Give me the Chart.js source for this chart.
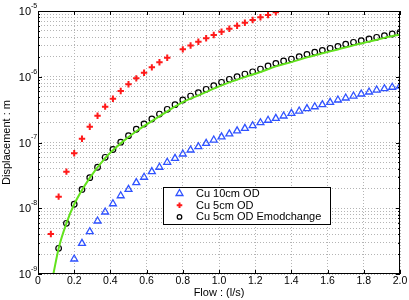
<!DOCTYPE html>
<html>
<head>
<meta charset="utf-8">
<script src="https://cdn.jsdelivr.net/npm/chart.js@4.4.1/dist/chart.umd.min.js"></script>
<style>
  body { margin: 0; background: #fff; }
  canvas { display: block; }
</style>
</head>
<body>
<canvas id="myChart" width="409" height="300"></canvas>
<script>
// flow values (l/s) shared by the three measured series
var flow = [0.071, 0.114, 0.157, 0.200, 0.243, 0.286, 0.329, 0.371, 0.414, 0.457,
  0.500, 0.543, 0.586, 0.629, 0.671, 0.714, 0.757, 0.800, 0.843, 0.886,
  0.929, 0.971, 1.014, 1.057, 1.100, 1.143, 1.186, 1.229, 1.271, 1.314,
  1.357, 1.400, 1.443, 1.486, 1.529, 1.571, 1.614, 1.657, 1.700, 1.743,
  1.786, 1.829, 1.871, 1.914, 1.957, 2.000];

var cu10 = [null, null, null, 1.69e-9, 2.93e-9, 4.40e-9, 6.40e-9, 8.77e-9, 1.17e-8, 1.55e-8,
  1.94e-8, 2.45e-8, 2.96e-8, 3.60e-8, 4.20e-8, 5.00e-8, 5.75e-8, 6.68e-8, 7.69e-8, 8.63e-8,
  9.72e-8, 1.09e-7, 1.22e-7, 1.35e-7, 1.50e-7, 1.64e-7, 1.80e-7, 2.00e-7, 2.18e-7, 2.33e-7,
  2.53e-7, 2.78e-7, 3.01e-7, 3.27e-7, 3.50e-7, 3.76e-7, 4.08e-7, 4.43e-7, 4.75e-7, 5.09e-7,
  5.47e-7, 5.86e-7, 6.28e-7, 6.58e-7, 6.92e-7, 7.23e-7];

var cu5 = [4.06e-9, 1.50e-8, 3.60e-8, 6.85e-8, 1.14e-7, 1.74e-7, 2.55e-7, 3.51e-7, 4.63e-7, 6.07e-7,
  7.67e-7, 9.46e-7, 1.15e-6, 1.39e-6, 1.66e-6, 1.95e-6, null, 2.61e-6, 2.99e-6, 3.40e-6,
  3.85e-6, 4.32e-6, 4.84e-6, 5.38e-6, 5.97e-6, 6.64e-6, 7.29e-6, 8.02e-6, 8.69e-6, 9.55e-6];

var cu5Emod = [null, 2.46e-9, 5.90e-9, 1.15e-8, 1.93e-8, 2.92e-8, 4.20e-8, 5.96e-8, 7.83e-8, 1.01e-7,
  1.27e-7, 1.59e-7, 1.91e-7, 2.28e-7, 2.71e-7, 3.20e-7, 3.76e-7, 4.43e-7, 5.09e-7, 5.71e-7,
  6.44e-7, 7.31e-7, 8.24e-7, 9.14e-7, 1.00e-6, 1.10e-6, 1.19e-6, 1.31e-6, 1.46e-6, 1.60e-6,
  1.74e-6, 1.86e-6, 2.02e-6, 2.19e-6, 2.36e-6, 2.52e-6, 2.71e-6, 2.90e-6, 3.12e-6, 3.34e-6,
  3.53e-6, 3.75e-6, 3.98e-6, 4.21e-6, 4.47e-6, 4.74e-6];

// fitted curve (green)
var fitFlow = [0.085, 0.114, 0.157, 0.200, 0.286, 0.371, 0.457, 0.543, 0.629, 0.714,
  0.800, 0.886, 0.971, 1.057, 1.143, 1.229, 1.314, 1.400, 1.486, 1.571,
  1.657, 1.743, 1.829, 1.914, 2.000];
var fitDisp = [1.0e-9, 2.45e-9, 5.9e-9, 1.15e-8, 2.9e-8, 5.8e-8, 9.7e-8, 1.48e-7, 2.12e-7, 2.98e-7,
  4.1e-7, 5.2e-7, 6.6e-7, 8.2e-7, 9.9e-7, 1.18e-6, 1.44e-6, 1.67e-6, 1.97e-6, 2.27e-6,
  2.6e-6, 3.0e-6, 3.42e-6, 3.9e-6, 4.4e-6];

var seriesLabels = ["Cu 10cm OD", "Cu 5cm OD", "Cu 5cm OD Emodchange"];
// y tick labels are drawn as 10 with a raised exponent
var yDecades = [-9, -8, -7, -6, -5];
var yTickExp = ["-9", "-8", "-7", "-6", "-5"];

var FONT = "'Liberation Sans', Arial, sans-serif";

function toPoints(xs, ys) {
  var pts = [];
  for (var i = 0; i < ys.length; i++) {
    if (ys[i] !== null) pts.push({ x: xs[i], y: ys[i] });
  }
  return pts;
}

function isDecade(v) {
  var l = Math.log10(v);
  return Math.abs(l - Math.round(l)) < 1e-6;
}

// MATLAB style frame + inward ticks + power-of-ten labels
var boxPlugin = {
  id: "box",
  afterDatasetsDraw: function (chart) {
    var ctx = chart.ctx, a = chart.chartArea;
    var x = chart.scales.x, y = chart.scales.y;
    ctx.save();
    ctx.strokeStyle = "#000";
    ctx.lineWidth = 1;
    ctx.beginPath();
    x.ticks.forEach(function (t) {
      var px = Math.round(x.getPixelForValue(t.value)) + 0.5;
      ctx.moveTo(px, a.bottom); ctx.lineTo(px, a.bottom - 4);
      ctx.moveTo(px, a.top); ctx.lineTo(px, a.top + 4);
    });
    y.ticks.forEach(function (t) {
      var py = Math.round(y.getPixelForValue(t.value)) + 0.5;
      var len = isDecade(t.value) ? 4 : 2;
      ctx.moveTo(a.left, py); ctx.lineTo(a.left + len, py);
      ctx.moveTo(a.right, py); ctx.lineTo(a.right - len, py);
    });
    ctx.stroke();
    ctx.strokeRect(Math.round(a.left) + 0.5, Math.round(a.top) + 0.5,
      Math.round(a.width) - 1, Math.round(a.height) - 1);

    ctx.fillStyle = "#000";
    ctx.textBaseline = "middle";
    yDecades.forEach(function (d, i) {
      var py = y.getPixelForValue(Math.pow(10, d));
      ctx.font = "11px " + FONT;
      ctx.textAlign = "right";
      ctx.fillText("10", a.left - 7, py + 1);
      ctx.font = "7px " + FONT;
      ctx.textAlign = "left";
      ctx.fillText(yTickExp[i], a.left - 7, py - 5);
    });
    ctx.restore();
  }
};

// legend box inside the plot
var legendPlugin = {
  id: "boxLegend",
  afterDraw: function (chart) {
    var ctx = chart.ctx;
    var bx = 163, by = 187, bw = 167, bh = 37;
    ctx.save();
    ctx.fillStyle = "#fff";
    ctx.fillRect(bx, by, bw, bh);
    ctx.strokeStyle = "#000";
    ctx.lineWidth = 1;
    ctx.strokeRect(bx + 0.5, by + 0.5, bw, bh);
    ctx.font = "11px " + FONT;
    ctx.textBaseline = "middle";
    var rows = chart.data.datasets.filter(function (d) { return d.inLegend; });
    rows.forEach(function (d, i) {
      var cy = by + 6.5 + i * 11.7;
      ctx.strokeStyle = d.borderColor;
      ctx.fillStyle = "rgba(0,0,0,0)";
      ctx.lineWidth = d.borderWidth;
      Chart.helpers.drawPoint(ctx, {
        pointStyle: d.pointStyle, radius: d.legendRadius, rotation: 0, borderWidth: d.borderWidth
      }, 179.5, cy);
      ctx.fillStyle = "#000";
      ctx.fillText(d.label, 196, cy + 0.5);
    });
    ctx.restore();
  }
};

var yTicks = [];
for (var e = -9; e <= -5; e++) {
  for (var m = 1; m <= 9; m++) {
    if (e === -5 && m > 1) break;
    yTicks.push(m * Math.pow(10, e));
  }
}

var gridColor = "#b4b4b4";

new Chart(document.getElementById("myChart").getContext("2d"), {
  type: "scatter",
  data: {
    datasets: [
      {
        label: "fit",
        type: "line",
        data: toPoints(fitFlow, fitDisp),
        borderColor: "#62e21c",
        borderWidth: 2,
        pointRadius: 0,
        cubicInterpolationMode: "monotone",
        fill: false,
        order: 0
      },
      {
        label: seriesLabels[0],
        inLegend: true,
        data: toPoints(flow, cu10),
        pointStyle: "triangle",
        pointRadius: 4,
        legendRadius: 4,
        borderColor: "#2f52ff",
        backgroundColor: "rgba(0,0,0,0)",
        borderWidth: 1.3,
        order: 3
      },
      {
        label: seriesLabels[1],
        inLegend: true,
        data: toPoints(flow, cu5),
        pointStyle: "cross",
        pointRadius: 3.2,
        legendRadius: 2.8,
        borderColor: "#ff1a1a",
        backgroundColor: "#ff1a1a",
        borderWidth: 2,
        order: 2
      },
      {
        label: seriesLabels[2],
        inLegend: true,
        data: toPoints(flow, cu5Emod),
        pointStyle: "circle",
        pointRadius: 2.8,
        legendRadius: 2.3,
        borderColor: "#000000",
        backgroundColor: "rgba(0,0,0,0)",
        borderWidth: 1.2,
        order: 1
      }
    ]
  },
  options: {
    animation: false,
    responsive: false,
    events: [],
    layout: { padding: { top: 11, right: 9, left: 0, bottom: 0 } },
    plugins: { legend: { display: false }, tooltip: { enabled: false } },
    scales: {
      x: {
        type: "linear",
        min: 0,
        max: 2,
        afterFit: function (s) { s.height = 26; },
        ticks: { stepSize: 0.2, color: "#000", padding: 1, font: { family: FONT, size: 10.5 } },
        grid: { color: gridColor, drawTicks: false, borderDash: [1, 2] },
        border: { display: false, dash: [1, 2] },
        title: { display: true, text: "Flow : (l/s)", color: "#000", padding: 0, font: { family: FONT, size: 11 } }
      },
      y: {
        type: "logarithmic",
        min: 1e-9,
        max: 1e-5,
        afterFit: function (s) { s.width = 38; },
        afterBuildTicks: function (s) {
          s.ticks = yTicks.map(function (v) { return { value: v }; });
        },
        ticks: {
          autoSkip: false,
          callback: function () { return ""; }
        },
        grid: { color: gridColor, drawTicks: false, borderDash: [1, 2] },
        border: { display: false, dash: [1, 2] },
        title: { display: true, text: "Displacement : m", color: "#000", padding: 0, font: { family: FONT, size: 11 } }
      }
    }
  },
  plugins: [boxPlugin, legendPlugin]
});
</script>
</body>
</html>
